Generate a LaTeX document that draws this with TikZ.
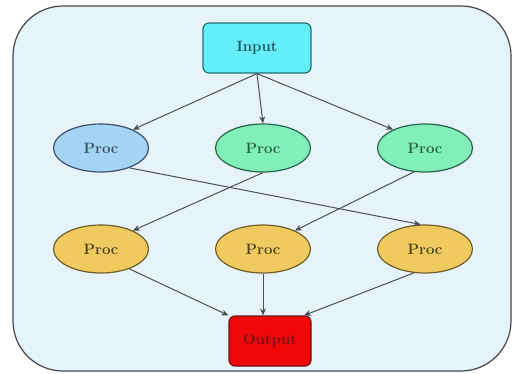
\documentclass[tikz,border=0pt]{standalone}
\usetikzlibrary{arrows.meta,shapes.geometric}
\definecolor{bgblue}{RGB}{230,243,250}
\definecolor{frame}{RGB}{70,70,70}
\definecolor{incyan}{RGB}{100,238,248}
\definecolor{inborder}{RGB}{40,110,120}
\definecolor{pblue}{RGB}{165,212,242}
\definecolor{pblueb}{RGB}{60,80,110}
\definecolor{pgreen}{RGB}{130,238,185}
\definecolor{pgreenb}{RGB}{40,100,70}
\definecolor{pyellow}{RGB}{240,202,95}
\definecolor{pyellowb}{RGB}{110,95,40}
\definecolor{outred}{RGB}{240,8,8}
\definecolor{outredb}{RGB}{110,20,20}
\definecolor{edgec}{RGB}{75,80,85}
\tikzset{
  boxnode/.style={draw, line width=1.2pt, rounded corners=6pt, minimum width=108pt, minimum height=50pt, font=\fontsize{15}{17}\selectfont\bfseries},
  procnode/.style={draw, line width=1.2pt, ellipse, minimum width=95pt, minimum height=48pt, inner sep=0pt, font=\fontsize{15}{17}\selectfont\bfseries},
  conn/.style={draw=edgec, line width=1pt, -{Stealth[length=7pt,width=6pt]}}
}
\begin{document}
\begin{tikzpicture}[x=1pt,y=-1pt]
\useasboundingbox (0,0) rectangle (515,373);
\draw[fill=bgblue, draw=frame, line width=1.2pt, rounded corners=50pt] (13,6) rectangle (511,371);
\node[boxnode, fill=incyan, draw=inborder, text=inborder!80!black] (in) at (257,48) {Input};
\node[procnode, fill=pblue, draw=pblueb, text=pblueb] (p1) at (101,148) {Proc};
\node[procnode, fill=pgreen, draw=pgreenb, text=pgreenb] (p2) at (263,148) {Proc};
\node[procnode, fill=pgreen, draw=pgreenb, text=pgreenb] (p3) at (425,148) {Proc};
\node[procnode, fill=pyellow, draw=pyellowb, text=pyellowb!70!black] (q1) at (101,249) {Proc};
\node[procnode, fill=pyellow, draw=pyellowb, text=pyellowb!70!black] (q2) at (263,249) {Proc};
\node[procnode, fill=pyellow, draw=pyellowb, text=pyellowb!70!black] (q3) at (425,249) {Proc};
\node[boxnode, fill=outred, draw=outredb, text=outredb, minimum width=82pt] (out) at (270,341) {Output};
\draw[conn] (in.south) -- (p1.30);
\draw[conn] (in.south) -- (p2.north);
\draw[conn] (in.south) -- (p3.150);
\draw[conn] (p1.-35) -- (q3.100);
\draw[conn] (p2.south) -- (q1.30);
\draw[conn] (p3.-115) -- (q2.30);
\draw[conn] (q1.-35) -- (out.north west);
\draw[conn] (q2.south) -- (out.north -| q2.south);
\draw[conn] (q3.-115) -- (out.37);
\end{tikzpicture}
\end{document}
